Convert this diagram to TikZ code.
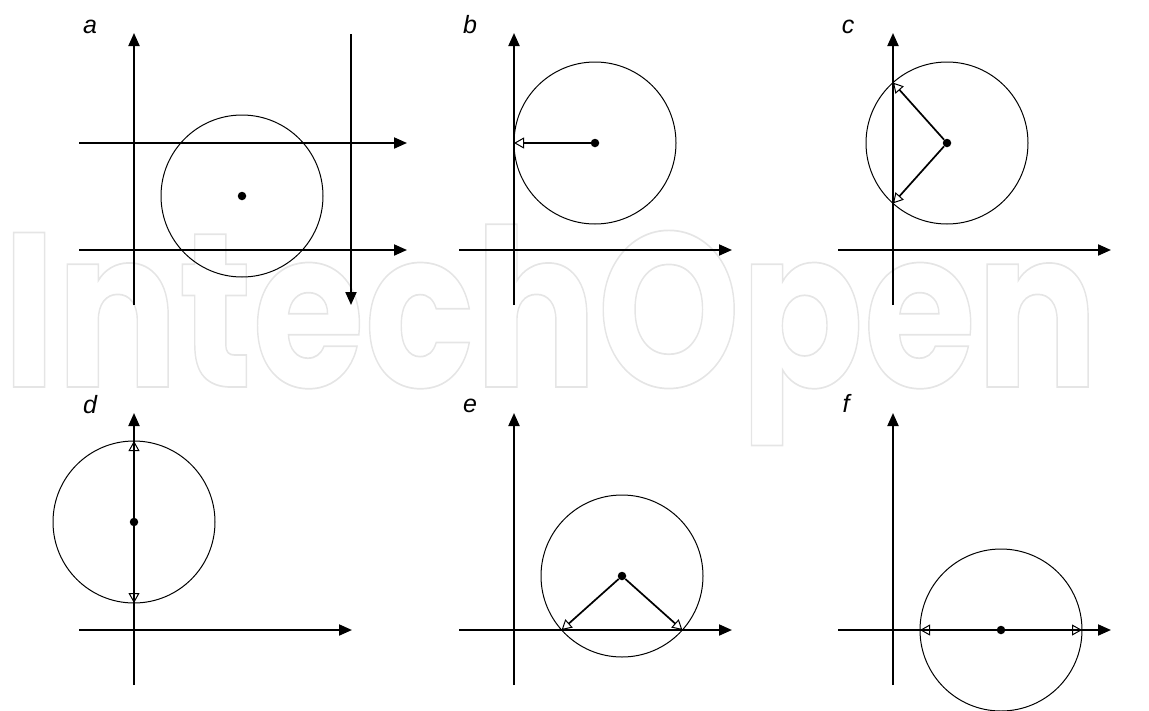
\documentclass[tikz,border=0pt]{standalone}
\usepackage{fontspec}
\setsansfont{Liberation Sans}
\newfontfamily\wmfont{Poppins}
\usetikzlibrary{arrows.meta}
\begin{document}
\begin{tikzpicture}[x=1pt,y=-1pt,
  axis/.style={line width=2pt,-{Triangle[length=13pt,width=11pt]}},
  vec/.style={line width=1.7pt,-{Triangle[open,length=10pt,width=11pt,line width=1pt]}},
  ring/.style={circle,draw,line width=1pt,minimum size=162pt,inner sep=0pt},
  dot/.style={circle,fill=black,inner sep=0pt,minimum size=8.5pt},
  lab/.style={font=\sffamily\itshape\fontsize{25}{25}\selectfont,anchor=base,inner sep=0pt},
]
\useasboundingbox (0,0) rectangle (1149,710);
% watermark
\node[anchor=base west,inner sep=0pt,text=black!10] (wm) at (0,387)
  {\scalebox{0.827}[1]{\wmfont\bfseries\fontsize{220}{220}\selectfont\kern2.5pt\special{pdf:literal direct 1 Tr 1.7 w}IntechOpen\special{pdf:literal direct 0 Tr 0.4 w}}};

% ---------- panel a ----------
\node[lab] (la) at (90,33) {a};
\node[ring] (aC) at (242,196) {};
\node[dot] (aD) at (242,196) {};
\coordinate (aYb) at (134,305); \coordinate (aYt) at (134,33);
\coordinate (aH1s) at (79,143); \coordinate (aH1e) at (407,143);
\coordinate (aH2s) at (79,250); \coordinate (aH2e) at (407,250);
\coordinate (aVs) at (351,34);  \coordinate (aVe) at (351,305);
\draw[axis] (aYb) -- (aYt);
\draw[axis] (aH1s) -- (aH1e);
\draw[axis] (aH2s) -- (aH2e);
\draw[axis] (aVs) -- (aVe);

% ---------- panel b ----------
\node[lab] (lb) at (470,33) {b};
\node[ring] (bC) at (595,143) {};
\node[dot] (bD) at (595,143) {};
\coordinate (bP) at (514,143);
\draw[vec] (bD) -- (bP);
\coordinate (bYb) at (514,305); \coordinate (bYt) at (514,33);
\coordinate (bXs) at (459,250); \coordinate (bXe) at (732,250);
\draw[axis] (bYb) -- (bYt);
\draw[axis] (bXs) -- (bXe);

% ---------- panel c ----------
\node[lab] (lc) at (848,33) {c};
\node[ring] (cC) at (947,143) {};
\node[dot] (cD) at (947,143) {};
\coordinate (cP1) at (893,82.6); \coordinate (cP2) at (893,203.4);
\draw[vec] (cD) -- (cP1);
\draw[vec] (cD) -- (cP2);
\coordinate (cYb) at (893,305); \coordinate (cYt) at (893,33);
\coordinate (cXs) at (838,250); \coordinate (cXe) at (1111,250);
\draw[axis] (cYb) -- (cYt);
\draw[axis] (cXs) -- (cXe);

% ---------- panel d ----------
\node[lab] (ld) at (90,413) {d};
\node[ring] (dC) at (134,522) {};
\node[dot] (dD) at (134,522) {};
\coordinate (dP1) at (134,441); \coordinate (dP2) at (134,603);
\draw[vec] (dD) -- (dP1);
\draw[vec] (dD) -- (dP2);
\coordinate (dYb) at (134,685); \coordinate (dYt) at (134,413);
\coordinate (dXs) at (79,630); \coordinate (dXe) at (352,630);
\draw[axis] (dYb) -- (dYt);
\draw[axis] (dXs) -- (dXe);

% ---------- panel e ----------
\node[lab] (le) at (470,412) {e};
\node[ring] (eC) at (622,576) {};
\node[dot] (eD) at (622,576) {};
\coordinate (eP1) at (561.6,630); \coordinate (eP2) at (682.4,630);
\draw[vec] (eD) -- (eP1);
\draw[vec] (eD) -- (eP2);
\coordinate (eYb) at (514,685); \coordinate (eYt) at (514,413);
\coordinate (eXs) at (459,630); \coordinate (eXe) at (732,630);
\draw[axis] (eYb) -- (eYt);
\draw[axis] (eXs) -- (eXe);

% ---------- panel f ----------
\node[lab] (lf) at (846,412) {f};
\node[ring] (fC) at (1001,630) {};
\node[dot] (fD) at (1001,630) {};
\coordinate (fP1) at (920,630); \coordinate (fP2) at (1082,630);
\draw[vec] (fD) -- (fP1);
\draw[vec] (fD) -- (fP2);
\coordinate (fYb) at (893,685); \coordinate (fYt) at (893,413);
\coordinate (fXs) at (838,630); \coordinate (fXe) at (1111,630);
\draw[axis] (fYb) -- (fYt);
\draw[axis] (fXs) -- (fXe);
\end{tikzpicture}
\end{document}
